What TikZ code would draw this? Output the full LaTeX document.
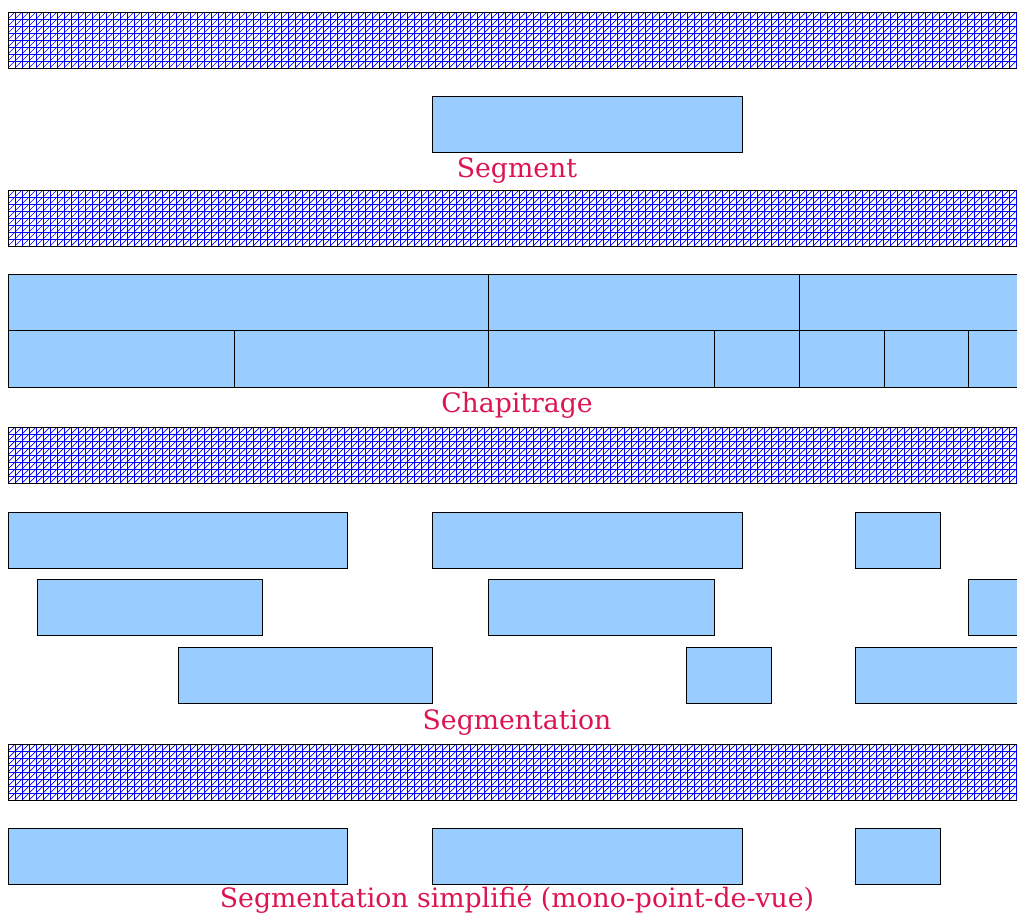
\documentclass[tikz,border=0pt]{standalone}
\usepackage{fontspec}
\setmainfont{DejaVu Serif}
\definecolor{boxfill}{HTML}{99CCFF}
\definecolor{labelred}{RGB}{220,20,80}
\tikzset{
  seg/.style={draw=black, fill=boxfill, line width=0.8pt},
  hatch/.style={draw=blue, line width=0.7pt},
  barframe/.style={draw=black, line width=0.8pt},
  lbl/.style={text=labelred, font=\fontsize{26.7}{32}\selectfont, inner sep=0pt, anchor=base}
}
\newcommand{\hatchbar}[1]{%
  \begin{scope}
    \clip (8,#1) rectangle (1030,#1+56);
    \foreach \xx in {8,15,...,1030} \draw[hatch] (\xx,#1) -- (\xx,#1+56);
    \foreach \yy in {0,7,...,56} \draw[hatch] (8,#1+\yy) -- (1030,#1+\yy);
    \foreach \xx in {8,15,...,1094} \draw[hatch] (\xx-56,#1+56) -- (\xx,#1);
  \end{scope}
  \draw[barframe] (8,#1) rectangle (1030,#1+56);
}
\begin{document}
\begin{tikzpicture}[x=1pt,y=-1pt]
\useasboundingbox (0,0) rectangle (1017,913);
\clip (0,0) rectangle (1017,913);

% Segment
\hatchbar{12}
\draw[seg] (432,96) rectangle (742,152);
\node[lbl] (lsegment) at (517,177) {Segment};

% Chapitrage
\hatchbar{190}
\draw[seg] (8,274) rectangle (488,330);
\draw[seg] (488,274) rectangle (799,330);
\draw[seg] (799,274) rectangle (1030,330);
\draw[seg] (8,330) rectangle (234,387);
\draw[seg] (234,330) rectangle (488,387);
\draw[seg] (488,330) rectangle (714,387);
\draw[seg] (714,330) rectangle (799,387);
\draw[seg] (799,330) rectangle (884,387);
\draw[seg] (884,330) rectangle (968,387);
\draw[seg] (968,330) rectangle (1030,387);
\node[lbl] (lchap) at (517,412) {Chapitrage};

% Segmentation
\hatchbar{427}
\draw[seg] (8,512) rectangle (347,568);
\draw[seg] (432,512) rectangle (742,568);
\draw[seg] (855,512) rectangle (940,568);
\draw[seg] (37,579) rectangle (262,635);
\draw[seg] (488,579) rectangle (714,635);
\draw[seg] (968,579) rectangle (1030,635);
\draw[seg] (178,647) rectangle (432,703);
\draw[seg] (686,647) rectangle (771,703);
\draw[seg] (855,647) rectangle (1030,703);
\node[lbl] (lsegm) at (517,729) {Segmentation};

% Segmentation simplifiee
\hatchbar{744}
\draw[seg] (8,828) rectangle (347,884);
\draw[seg] (432,828) rectangle (742,884);
\draw[seg] (855,828) rectangle (940,884);
\node[lbl] (lsimp) at (517,907) {Segmentation simplifié (mono-point-de-vue)};
\end{tikzpicture}
\end{document}
